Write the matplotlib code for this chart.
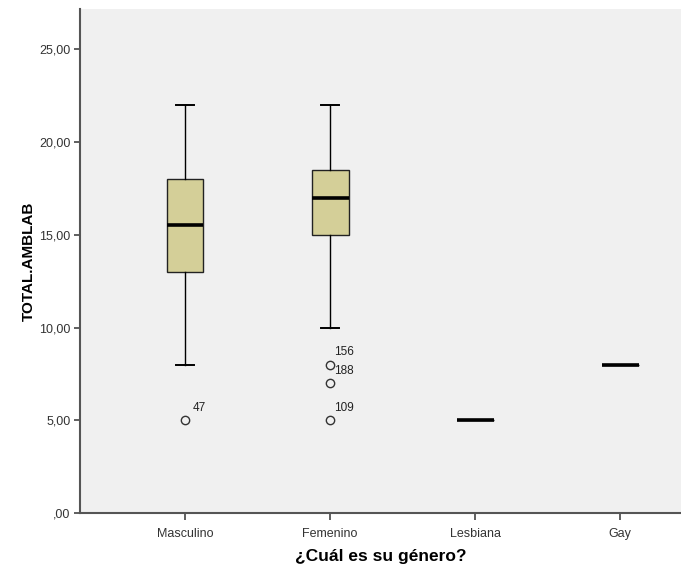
import matplotlib.pyplot as plt

plt.rcParams['font.family'] = ['Liberation Sans', 'DejaVu Sans']

categories = ['Masculino', 'Femenino', 'Lesbiana', 'Gay']
whislo = [8, 10, 5, 8]
q1 = [13, 15, 5, 8]
med = [15.5, 17, 5, 8]
q3 = [18, 18.5, 5, 8]
whishi = [22, 22, 5, 8]
fliers = [[5], [8, 7, 5], [], []]
flier_ids = [['47'], ['156', '188', '109'], [], []]
yticks = [0, 5, 10, 15, 20, 25]
ytick_labels = [',00', '5,00', '10,00', '15,00', '20,00', '25,00']

stats = []
for i, name in enumerate(categories):
    stats.append({'label': name, 'whislo': whislo[i], 'q1': q1[i], 'med': med[i],
                  'q3': q3[i], 'whishi': whishi[i], 'fliers': fliers[i]})

fig = plt.figure(figsize=(6.81, 5.67), dpi=100)
ax = fig.add_axes([80 / 681, 54 / 567, 601 / 681, 504 / 567])
ax.set_facecolor('#f0f0f0')

pos = [1, 2, 3, 4]
ax.bxp(stats, positions=pos, widths=0.255, patch_artist=True,
       boxprops=dict(facecolor='#d4cf98', edgecolor='#222222', linewidth=1),
       medianprops=dict(color='black', linewidth=2.6, solid_capstyle='butt'),
       whiskerprops=dict(color='black', linewidth=1),
       capprops=dict(color='black', linewidth=1.4),
       capwidths=0.13,
       flierprops=dict(marker='o', markersize=6, markerfacecolor='none',
                       markeredgecolor='#333333', markeredgewidth=1))

for i in range(len(categories)):
    for v, lab in zip(fliers[i], flier_ids[i]):
        ax.annotate(lab, (pos[i], v), xytext=(10, 9), textcoords='offset points',
                    ha='center', va='center', fontsize=8.5, color='#222222')

ax.set_xlim(0.276, 4.42)
ax.set_ylim(0, 27.17)
ax.set_yticks(yticks)
ax.set_yticklabels(ytick_labels)
ax.set_xticks(pos)
ax.set_xticklabels(categories)
ax.tick_params(axis='both', direction='out', length=4, width=1.2, color='#444444',
               labelsize=9, labelcolor='#333333', pad=3)
ax.tick_params(axis='x', length=5, pad=6)

for s in ['top', 'right']:
    ax.spines[s].set_visible(False)
for s in ['left', 'bottom']:
    ax.spines[s].set_color('#555555')
    ax.spines[s].set_linewidth(1.5)

ax.set_ylabel('TOTAL.AMBLAB', fontsize=11, fontweight='bold', labelpad=2)
ax.set_xlabel('¿Cuál es su género?', fontsize=12.5, fontweight='bold', labelpad=6)

fig.savefig('out.png', dpi=100)
